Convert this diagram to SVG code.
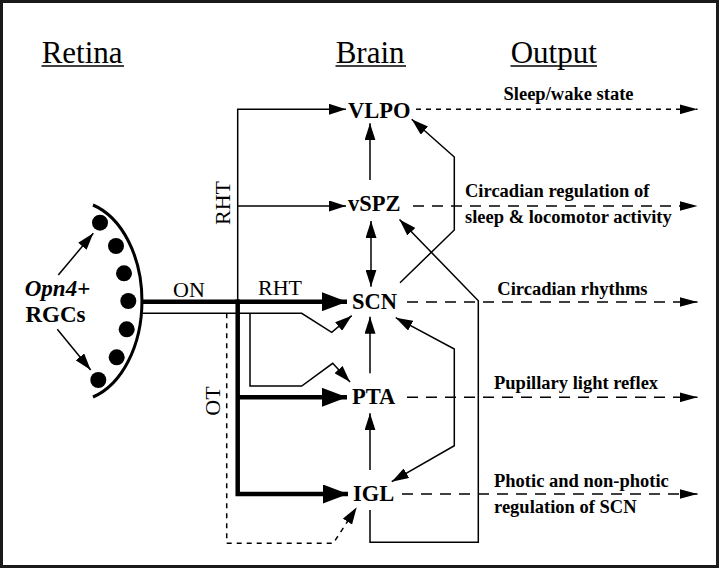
<svg xmlns="http://www.w3.org/2000/svg" width="720" height="570" viewBox="0 0 720 570">
<style>
text{font-family:"Liberation Serif","Times New Roman",serif;fill:#000}
.hdr{font-size:31px}
.node{font-size:22.5px;font-weight:bold}
.lbl{font-size:22px}
.out{font-size:18.5px;font-weight:bold}
.rgc{font-size:23px;font-weight:bold}
.thin{fill:none;stroke:#000;stroke-width:1.5}
.thick{fill:none;stroke:#000;stroke-width:4.5}
.dot{fill:none;stroke:#000;stroke-width:1.5;stroke-dasharray:5 5}
.dash{fill:none;stroke:#000;stroke-width:1.6;stroke-dasharray:11 8}
.ul{stroke:#000;stroke-width:1.5}
</style>
<defs>
<marker id="a" viewBox="0 0 17 11" refX="17" refY="5.5" markerWidth="17" markerHeight="11" markerUnits="userSpaceOnUse" orient="auto-start-reverse"><path d="M0,0 L17,5.5 L0,11 z" fill="#000"/></marker>
<marker id="t" viewBox="0 0 25 19" refX="25" refY="9.5" markerWidth="25" markerHeight="19" markerUnits="userSpaceOnUse" orient="auto"><path d="M0,0 L25,9.5 L0,19 z" fill="#000"/></marker>
<marker id="o" viewBox="0 0 18 10" refX="18" refY="5" markerWidth="18" markerHeight="10" markerUnits="userSpaceOnUse" orient="auto"><path d="M0,0 L18,5 L0,10 z" fill="#000"/></marker>
</defs>
<rect x="1.5" y="1.5" width="716" height="565" fill="#fff" stroke="#1a1a1a" stroke-width="3"/>

<g id="headers">
<text class="hdr" x="41.7" y="63.3">Retina</text>
<line class="ul" x1="41.5" y1="66" x2="124" y2="66"/>
<text class="hdr" x="335.7" y="63.3">Brain</text>
<line class="ul" x1="335.5" y1="66" x2="406" y2="66"/>
<text class="hdr" x="510.7" y="63.3">Output</text>
<line class="ul" x1="510.5" y1="66" x2="597" y2="66"/>
</g>

<g id="retina">
<path d="M93,205 A68,100 0 0 1 93,397" fill="none" stroke="#000" stroke-width="3"/>
<g fill="#000">
<circle cx="100" cy="222.7" r="8"/>
<circle cx="116" cy="246" r="8"/>
<circle cx="124" cy="273.3" r="8"/>
<circle cx="128.3" cy="301" r="8"/>
<circle cx="126.7" cy="329.3" r="8"/>
<circle cx="116.7" cy="357.3" r="8"/>
<circle cx="98.3" cy="380" r="8"/>
</g>
<text class="rgc" x="57.5" y="296" text-anchor="middle"><tspan font-style="italic">Opn4</tspan>+</text>
<text class="rgc" x="55.5" y="321.7" text-anchor="middle">RGCs</text>
<path class="thin" d="M58.3,275 L93.3,233.3" marker-end="url(#a)"/>
<path class="thin" d="M57.3,329.3 L90.7,370" marker-end="url(#a)"/>
</g>

<g id="VLPO"><text class="node" x="348" y="117.7">VLPO</text></g>
<g id="vSPZ"><text class="node" x="348" y="211">vSPZ</text></g>
<g id="SCN"><text class="node" x="352" y="309">SCN</text></g>
<g id="PTA"><text class="node" x="352" y="404">PTA</text></g>
<g id="IGL"><text class="node" x="353" y="501">IGL</text></g>

<g id="tract-labels">
<text class="lbl" x="173" y="297">ON</text>
<text class="lbl" x="258" y="295">RHT</text>
<text class="lbl" x="230" y="203" text-anchor="middle" transform="rotate(-90 230 203)">RHT</text>
<text class="lbl" x="220" y="401" text-anchor="middle" transform="rotate(-90 220 401)">OT</text>
</g>

<g id="outputs">
<text class="out" x="503.5" y="100">Sleep/wake state</text>
<text class="out" x="465" y="196.7">Circadian regulation of</text>
<text class="out" x="465" y="223.3">sleep &amp; locomotor activity</text>
<text class="out" x="497.3" y="295">Circadian rhythms</text>
<text class="out" x="494" y="389.3">Pupillary light reflex</text>
<text class="out" x="494" y="486.7">Photic and non-photic</text>
<text class="out" x="494" y="513.3">regulation of SCN</text>
</g>

<g id="connectors">
<path class="thin" d="M237.7,301.7 L237.7,109.3 L346,109.3" marker-end="url(#a)"/>
<path class="thin" d="M237.7,206 L346,206" marker-end="url(#a)"/>
<path class="thick" d="M143,301.7 L347,301.7" marker-end="url(#t)"/>
<path class="thick" d="M237.7,299.5 L237.7,494 L348,494" marker-end="url(#t)"/>
<path class="thick" d="M237.7,397.3 L347,397.3" marker-end="url(#t)"/>
<path class="thin" d="M143,313.3 L301.7,313.3 L331.7,332.3 L351.7,315.7" marker-end="url(#a)"/>
<path class="thin" d="M250,313.3 L250,386 L301.7,386 L332.7,363.3 L350,382" marker-end="url(#a)"/>
<path class="dot" d="M226.7,313.3 L226.7,543.3 L333.3,543.3 L356.7,507.3" marker-end="url(#a)"/>
<path class="thin" d="M370,180 L370,123.3" marker-end="url(#a)"/>
<path class="thin" d="M371,221 L371,286.7" marker-start="url(#a)" marker-end="url(#a)"/>
<path class="thin" d="M370,373.3 L370,316.7" marker-end="url(#a)"/>
<path class="thin" d="M370,470 L370,413.3" marker-end="url(#a)"/>
<path class="thin" d="M400,282.7 L454.3,230 L454.3,157 L411.7,119.3" marker-end="url(#a)"/>
<path class="thin" d="M370,510 L370,542.3 L478.3,542.3 L478.3,300.7 L399.5,219.5" marker-end="url(#a)"/>
<path class="thin" d="M395.7,317.7 L454.3,349 L454.3,445.7 L391.7,481.7" marker-start="url(#a)" marker-end="url(#a)"/>
<path class="dot" d="M416,109.3 L697.5,109.3" marker-end="url(#o)"/>
<path class="dash" d="M413,206 L697.5,206" marker-end="url(#o)"/>
<path class="dash" d="M407,302 L697.5,302" marker-end="url(#o)"/>
<path class="dash" d="M407,397.3 L697.5,397.3" marker-end="url(#o)"/>
<path class="dash" d="M402,494 L697.5,494" marker-end="url(#o)"/>
</g>
</svg>
